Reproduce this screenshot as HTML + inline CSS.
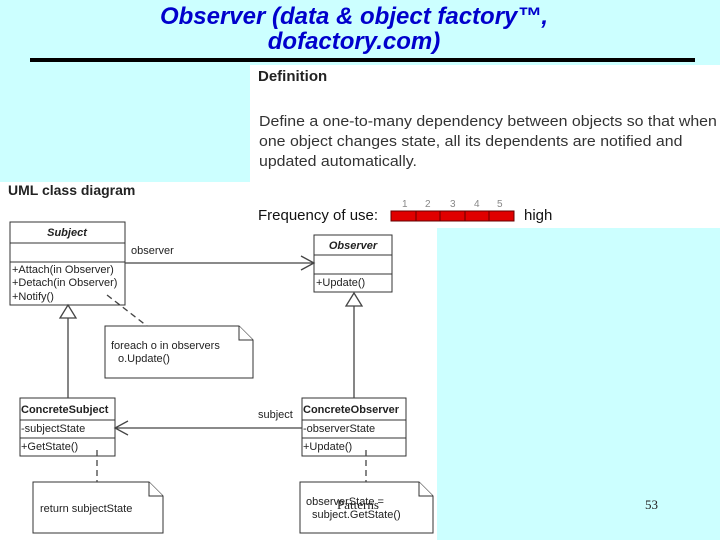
<!DOCTYPE html>
<html><head><meta charset="utf-8"><style>
body{margin:0;width:720px;height:540px;background:#ccffff;position:relative;overflow:hidden;font-family:"Liberation Sans",sans-serif}
.a{position:absolute;white-space:nowrap}
</style></head><body>
<div class="a" style="left:0;top:182px;width:250px;height:358px;background:#fff"></div>
<div class="a" style="left:250px;top:65px;width:470px;height:163px;background:#fff"></div>
<div class="a" style="left:0;top:228px;width:437px;height:312px;background:#fff"></div>
<div class="a" style="left:0;top:4px;width:708px;text-align:center;color:#0000cc;font-style:italic;font-weight:bold;font-size:24px;line-height:25px">Observer (data &amp; object factory™,<br>dofactory.com)</div>
<div class="a" style="left:30px;top:58px;width:665px;height:4px;background:#000"></div>
<div class="a" style="left:258px;top:68px;font-size:15px;font-weight:bold;color:#222">Definition</div>
<div class="a" style="left:259px;top:112px;font-size:15px;line-height:20px;color:#333;transform:scaleX(1.06);transform-origin:0 0">Define a one-to-many dependency between objects so that when<br>one object changes state, all its dependents are notified and<br>updated automatically.</div>
<div class="a" style="left:8px;top:182px;font-size:14px;font-weight:bold;color:#222">UML class diagram</div>
<div class="a" style="left:258px;top:207px;font-size:15px;color:#111">Frequency of use:</div>
<div class="a" style="left:524px;top:207px;font-size:15px;color:#111">high</div>
<svg class="a" style="left:0;top:0" width="720" height="540" font-family="Liberation Sans, sans-serif">
<g font-size="10" fill="#888"><text x="402" y="207">1</text><text x="425" y="207">2</text><text x="450" y="207">3</text><text x="474" y="207">4</text><text x="497" y="207">5</text></g>
<rect x="391" y="211" width="123" height="10" fill="#e00000" stroke="#600" />
<g stroke="#600"><line x1="416" y1="211" x2="416" y2="221"/><line x1="440" y1="211" x2="440" y2="221"/><line x1="465" y1="211" x2="465" y2="221"/><line x1="489" y1="211" x2="489" y2="221"/></g>
<g fill="#fff" stroke="#333" stroke-width="1">
<rect x="10" y="222" width="115" height="83"/><line x1="10" y1="243" x2="125" y2="243"/><line x1="10" y1="262" x2="125" y2="262"/>
<rect x="314" y="235" width="78" height="57"/><line x1="314" y1="255" x2="392" y2="255"/><line x1="314" y1="274" x2="392" y2="274"/>
<rect x="20" y="398" width="95" height="58"/><line x1="20" y1="420" x2="115" y2="420"/><line x1="20" y1="438" x2="115" y2="438"/>
<rect x="302" y="398" width="104" height="58"/><line x1="302" y1="420" x2="406" y2="420"/><line x1="302" y1="438" x2="406" y2="438"/>
<path d="M105 326H239L253 340V378H105Z"/><path d="M239 326V340H253"/>
<path d="M33 482H149L163 496V533H33Z"/><path d="M149 482V496H163"/>
<path d="M300 482H419L433 496V533H300Z"/><path d="M419 482V496H433"/>
</g>
<g stroke="#444" fill="none" stroke-width="1.3">
<line x1="125" y1="263" x2="314" y2="263"/><path d="M301 256L314 263L301 270"/>
<line x1="115" y1="428" x2="302" y2="428"/><path d="M128 421L115 428L128 435"/>
<line x1="68" y1="318" x2="68" y2="398"/><path d="M60 318L68 305L76 318Z" fill="#fff"/>
<line x1="354" y1="306" x2="354" y2="398"/><path d="M346 306L354 293L362 306Z" fill="#fff"/>
<g stroke-dasharray="6,4"><line x1="107" y1="295" x2="147" y2="326"/><line x1="97" y1="450" x2="97" y2="482"/><line x1="366" y1="450" x2="366" y2="482"/></g>
</g>
<g font-size="11" fill="#222">
<text x="67" y="236" text-anchor="middle" font-weight="bold" font-style="italic">Subject</text>
<text x="353" y="249" text-anchor="middle" font-weight="bold" font-style="italic">Observer</text>
<text x="21" y="413" font-weight="bold">ConcreteSubject</text>
<text x="303" y="413" font-weight="bold">ConcreteObserver</text>
<text x="12" y="273">+Attach(in Observer)</text><text x="12" y="286">+Detach(in Observer)</text><text x="12" y="300">+Notify()</text>
<text x="316" y="286">+Update()</text>
<text x="21" y="432">-subjectState</text><text x="21" y="450">+GetState()</text>
<text x="303" y="432">-observerState</text><text x="303" y="450">+Update()</text>
<text x="131" y="254">observer</text><text x="258" y="418">subject</text>
<text x="111" y="349">foreach o in observers</text><text x="118" y="362">o.Update()</text>
<text x="40" y="512">return subjectState</text>
<text x="306" y="505">observerState =</text><text x="312" y="518">subject.GetState()</text>
</g>
<text x="337" y="509" font-family="Liberation Serif, serif" font-size="13" fill="#222">Patterns</text>
<text x="645" y="509" font-family="Liberation Serif, serif" font-size="13" fill="#222">53</text>
</svg>
</body></html>
